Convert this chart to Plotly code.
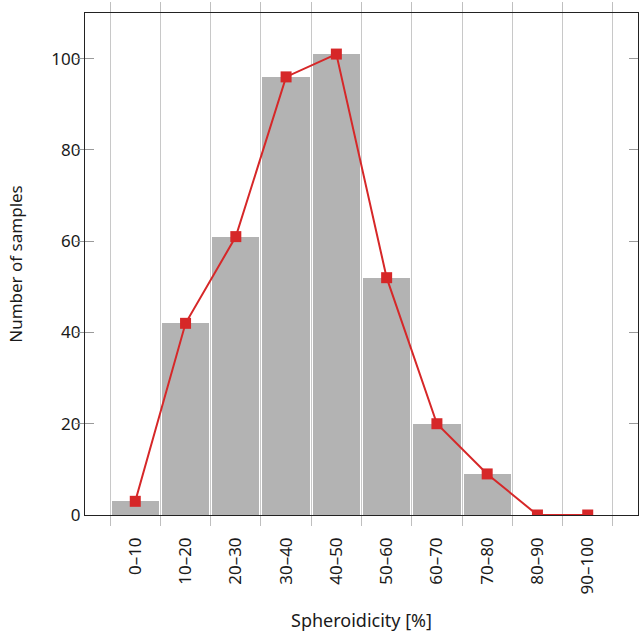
import plotly.graph_objects as go

categories = ["0–10", "10–20", "20–30", "30–40", "40–50", "50–60", "60–70", "70–80", "80–90", "90–100"]
bar_values = [3, 42, 61, 96, 101, 52, 20, 9, 0, 0]
line_values = [3, 42, 61, 96, 101, 52, 20, 9, 0, 0]
y_ticks = [0, 20, 40, 60, 80, 100]

centers = [i + 0.5 for i in range(len(categories))]
edges = list(range(len(categories) + 1))

FONT = "Noto Sans"
GRAY = "#b3b3b3"
RED = "#d62728"

fig = go.Figure()
fig.add_trace(go.Bar(
    x=centers, y=bar_values, width=0.94,
    marker=dict(color=GRAY, line=dict(width=0)),
    showlegend=False, xaxis="x",
))
fig.add_trace(go.Scatter(
    x=centers, y=line_values, mode="lines+markers",
    line=dict(color=RED, width=2),
    marker=dict(symbol="square", size=11, color=RED),
    showlegend=False, xaxis="x",
))
fig.add_trace(go.Scatter(x=centers, y=[None]*len(centers), xaxis="x2", showlegend=False, hoverinfo="skip"))

fig.update_layout(
    width=639, height=635,
    margin=dict(l=85, r=1, t=13, b=120),
    paper_bgcolor="white", plot_bgcolor="white",
    font=dict(family=FONT, size=17, color="#1a1a1a"),
    xaxis=dict(
        range=[-0.5, 10.5],
        tickmode="array", tickvals=edges, ticktext=[""] * len(edges),
        ticks="outside", ticklen=10, tickcolor="#bfbfbf", tickwidth=1,
        showgrid=True, gridcolor="#c8c8c8", gridwidth=1,
        showline=True, linecolor="#222", linewidth=1.2, mirror="allticks",
        zeroline=False,
    ),
    xaxis2=dict(
        overlaying="x", anchor="y", side="bottom",
        range=[-0.5, 10.5], matches="x",
        tickmode="array", tickvals=centers, ticktext=categories,
        ticks="", tickangle=-90, ticklabelstandoff=18,
        showgrid=False, showline=False, zeroline=False,
        tickfont=dict(family=FONT, size=17),
        title=dict(text="Spheroidicity [%]", font=dict(family=FONT, size=18), standoff=20),
    ),
    yaxis=dict(
        range=[0, 110],
        tickmode="array", tickvals=y_ticks,
        ticks="inside", ticklen=9, tickcolor="#9a9a9a", tickwidth=1,
        showgrid=False, zeroline=False,
        showline=True, linecolor="#222", linewidth=1.2, mirror="allticks",
        tickfont=dict(family=FONT, size=17),
        title=dict(text="Number of samples", font=dict(family=FONT, size=17), standoff=24),
    ),
    bargap=0,
)

fig.write_html("out.html")
